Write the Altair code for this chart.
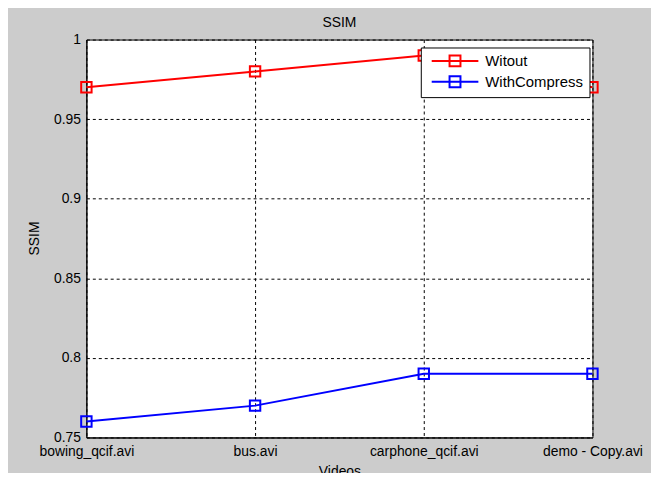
import altair as alt
import pandas as pd

videos = ["bowing_qcif.avi", "bus.avi", "carphone_qcif.avi", "demo - Copy.avi"]
witout = [0.97, 0.98, 0.99, 0.97]
with_compress = [0.76, 0.77, 0.79, 0.79]
series_names = ["Witout", "WithCompress"]
series_colors = ["#FF0000", "#0000FF"]
y_ticks = [0.75, 0.8, 0.85, 0.9, 0.95, 1.0]

rows = []
for name, vals in zip(series_names, [witout, with_compress]):
    for v, s in zip(videos, vals):
        rows.append({"Videos": v, "SSIM": s, "Series": name})
df = pd.DataFrame(rows)

FONT = "Liberation Sans"
# line with an open square in the middle, drawn as one legend symbol
legend_path = "M-1,0H7.55M2.27,-1H4.27V1H2.27Z"

x_enc = alt.X(
    "Videos:N",
    sort=videos,
    scale=alt.Scale(type="point", padding=0),
    axis=alt.Axis(
        title="Videos", labelAngle=0, ticks=False, labelPadding=7,
        titleY=38, titleBaseline="alphabetic", grid=True,
    ),
)
y_enc = alt.Y(
    "SSIM:Q",
    scale=alt.Scale(domain=[0.75, 1.0], nice=False, zero=False),
    axis=alt.Axis(
        title="SSIM", values=y_ticks, format=".2~f", ticks=False,
        labelPadding=6, titleX=-52, titleY=200, titleAlign="center",
        titleBaseline="middle", grid=True,
    ),
)
color_enc = alt.Color(
    "Series:N",
    sort=series_names,
    scale=alt.Scale(domain=series_names, range=series_colors),
    legend=alt.Legend(
        title=None, orient="none", legendX=337, legendY=8,
        symbolType=legend_path, symbolSize=121, symbolStrokeWidth=2,
        labelFontSize=15, labelFont=FONT, labelColor="black",
        labelOffset=41, padding=6, symbolOffset=3, rowPadding=2,
        fillColor="white", strokeColor="black",
    ),
)

base = alt.Chart(df).encode(x=x_enc, y=y_enc, color=color_enc, detail="Series:N")
lines = base.mark_line(strokeWidth=2)
points = base.mark_point(shape="square", size=110, filled=False, strokeWidth=2, opacity=1)

chart = (
    alt.layer(lines, points)
    .properties(
        width=510,
        height=401,
        title=alt.TitleParams(
            "SSIM", fontSize=14, fontWeight="normal", font=FONT,
            color="black", anchor="middle", offset=3,
        ),
        autosize=alt.AutoSizeParams(type="none"),
        padding={"left": 79, "top": 30, "right": 59, "bottom": 34},
        background="#CCCCCC",
    )
    .configure_view(stroke="black", strokeWidth=1, fill="white")
    .configure_axis(
        labelFont=FONT, titleFont=FONT, labelFontSize=14, titleFontSize=14,
        titleFontWeight="normal", labelColor="black", titleColor="black",
        domainColor="black", domainWidth=1, gridColor="black",
        gridDash=[3, 3], gridOpacity=1, gridWidth=1,
    )
)

chart.save("out.html", embed_options={"renderer": "svg", "actions": False})
